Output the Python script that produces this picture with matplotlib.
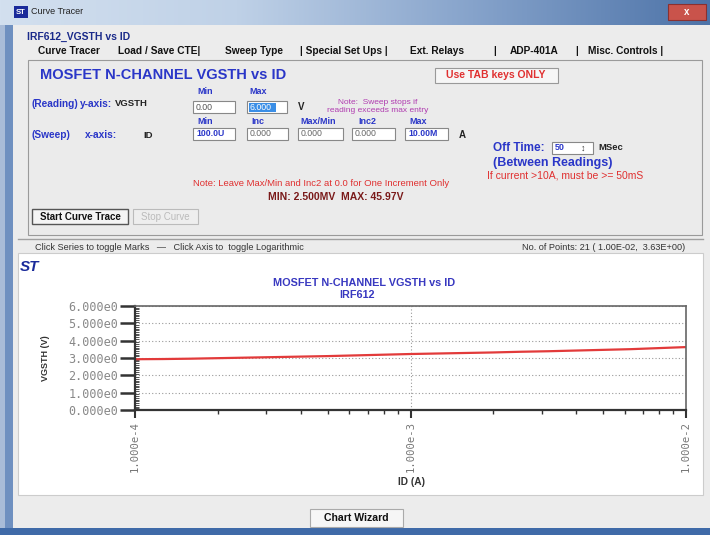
import numpy as np
import matplotlib.pyplot as plt
from matplotlib.patches import Rectangle
from matplotlib.colors import LinearSegmentedColormap
from matplotlib.ticker import MultipleLocator, FuncFormatter, NullFormatter, LogLocator

# sweep data: ID (A) vs VGSTH (V), 21 points
id_amps = [1.000e-4, 1.259e-4, 1.585e-4, 1.995e-4, 2.512e-4, 3.162e-4, 3.981e-4,
           5.012e-4, 6.310e-4, 7.943e-4, 1.000e-3, 1.259e-3, 1.585e-3, 1.995e-3,
           2.512e-3, 3.162e-3, 3.981e-3, 5.012e-3, 6.310e-3, 7.943e-3, 1.000e-2]
vgsth = [2.93, 2.94, 2.96, 2.99, 3.02, 3.05, 3.08, 3.11, 3.15, 3.19, 3.23,
         3.26, 3.29, 3.32, 3.36, 3.39, 3.43, 3.47, 3.51, 3.57, 3.63]
x_tick_vals = [1e-4, 1e-3, 1e-2]
x_tick_labels = ["1.000e-4", "1.000e-3", "1.000e-2"]
tabs = ["Curve Tracer", "Load / Save CTE|", "Sweep Type", "| Special Set Ups |",
        "Ext. Relays", "|", "ADP-401A", "|", "Misc. Controls |"]
tab_x = [38, 118, 225, 300, 410, 493, 510, 575, 588]

W, H = 710, 535
plt.rcParams['font.family'] = ['Liberation Sans', 'DejaVu Sans']
fig = plt.figure(figsize=(W / 100, H / 100), dpi=100)
fig.patch.set_facecolor('#ececec')

bg = fig.add_axes([0, 0, 1, 1])
bg.set_xlim(0, W)
bg.set_ylim(H, 0)
bg.axis('off')

BLUE = '#2a36c8'
RED = '#e03030'


def txt(x, y, s, size=6.5, color='black', weight='bold', ha='left', **kw):
    bg.text(x, y, s, fontsize=size, color=color, fontweight=weight, ha=ha, va='center', **kw)


def rect(x0, y0, x1, y1, face='white', edge='#888888', lw=0.8, z=1):
    bg.add_patch(Rectangle((x0, y0), x1 - x0, y1 - y0, facecolor=face, edgecolor=edge, lw=lw, zorder=z))


# window frame
rect(0, 0, W, H, face='#ececec', edge='none', z=0)
grad = np.linspace(0, 1, 256).reshape(1, -1)
cmap = LinearSegmentedColormap.from_list('tb', ['#d3e0ef', '#bfd1e7', '#86a3cb', '#4d73a8'])
bg.imshow(grad, extent=(0, W, 25, 0), aspect='auto', cmap=cmap, zorder=1)
rect(668, 4, 706, 20, face='#c9534b', edge='#8a3030', z=2)
txt(687, 12, "x", size=7, color='white', ha='center', zorder=3)
rect(14, 6, 28, 18, face='#1a2a9a', edge='none', z=2)
txt(21, 12, "ST", size=5.5, color='white', ha='center', zorder=3)
txt(31, 12, "Curve Tracer", size=6.5, weight='normal', color='#222222', zorder=3)
rect(0, 25, 5, H, face='#a9bcd8', edge='none', z=1)
rect(5, 25, 13, H, face='#6f90c0', edge='none', z=1)
rect(0, 528, W, H, face='#3f6aa8', edge='none', z=1)

# top panel
txt(27, 37, "IRF612_VGSTH vs ID", size=7.5, color='#1a2a8a')
for s, x in zip(tabs, tab_x):
    txt(x, 51, s, size=7.3, color='#111111')
rect(28, 60, 702, 235, face='#ebebeb', edge='#9a9a9a')
txt(40, 75, "MOSFET N-CHANNEL VGSTH vs ID", size=10.5, color=BLUE)
rect(435, 68, 558, 83, face='#f6f6f6', edge='#999999', z=2)
txt(496, 75.5, "Use TAB keys ONLY", size=7.5, color=RED, ha='center', zorder=3)

txt(205, 92, "Min", size=6.5, color=BLUE, ha='center')
txt(258, 92, "Max", size=6.5, color=BLUE, ha='center')
txt(32, 104, "(Reading)", size=7.3, color=BLUE)
txt(80, 104, "y-axis:", size=7.3, color=BLUE)
txt(115, 104, "VGSTH", size=6.8, color='#222222')
rect(193, 101, 235, 113, z=2)
txt(196, 107, "0.00", size=6.3, weight='normal', color='#555555', zorder=3)
rect(247, 101, 287, 113, z=2)
rect(249, 102.5, 276, 111.5, face='#3a8ee6', edge='none', z=3)
txt(250, 107, "6.000", size=6.3, weight='normal', color='white', zorder=4)
txt(298, 107, "V", size=7, color='#222222')
txt(378, 102, "Note:  Sweep stops if", size=6, weight='normal', color='#b03cb0', ha='center')
txt(378, 110, "reading exceeds max entry", size=6, weight='normal', color='#b03cb0', ha='center')

txt(205, 122, "Min", size=6.5, color=BLUE, ha='center')
txt(258, 122, "Inc", size=6.5, color=BLUE, ha='center')
txt(318, 122, "Max/Min", size=6.5, color=BLUE, ha='center')
txt(367, 122, "Inc2", size=6.5, color=BLUE, ha='center')
txt(418, 122, "Max", size=6.5, color=BLUE, ha='center')
txt(32, 135, "(Sweep)", size=7.3, color=BLUE)
txt(85, 135, "x-axis:", size=7.3, color=BLUE)
txt(143, 135, "ID", size=6.8, color='#222222')
sweep_boxes = [(193, 235, "100.0U", BLUE), (247, 288, "0.000", '#666666'),
               (298, 343, "0.000", '#666666'), (352, 395, "0.000", '#666666'),
               (405, 448, "10.00M", BLUE)]
for x0, x1, s, c in sweep_boxes:
    rect(x0, 128, x1, 140, z=2)
    txt(x0 + 3, 134, s, size=6.3, weight='bold' if c == BLUE else 'normal', color=c, zorder=3)
txt(459, 135, "A", size=7, color='#222222')

txt(493, 148, "Off Time:", size=8.5, color=BLUE)
rect(552, 142, 593, 154, z=2)
txt(555, 148, "50", size=6.5, color=BLUE, zorder=3)
txt(583, 148, "\u2195", size=6.5, weight='normal', color='#333333', ha='center', zorder=3)
txt(598, 148, "MSec", size=6.8, color='#222222')
txt(493, 163, "(Between Readings)", size=9, color=BLUE)
txt(487, 175, "If current >10A, must be >= 50mS", size=7.5, weight='normal', color=RED)
txt(193, 183, "Note: Leave Max/Min and Inc2 at 0.0 for One Increment Only", size=6.8,
    weight='normal', color=RED)
txt(268, 197, "MIN: 2.500MV  MAX: 45.97V", size=7.5, color='#7a1a1a')

rect(32, 209, 128, 224, face='#f4f4f4', edge='#555555', lw=1, z=2)
txt(80, 216.5, "Start Curve Trace", size=7, color='#111111', ha='center', zorder=3)
rect(133, 209, 198, 224, face='#eeeeee', edge='#bbbbbb', z=2)
txt(165, 216.5, "Stop Curve", size=7, weight='normal', color='#bbbbbb', ha='center', zorder=3)

bg.plot([18, 703], [239, 239], color='#a0a0a0', lw=1)
txt(35, 247, "Click Series to toggle Marks   \u2014   Click Axis to  toggle Logarithmic",
    size=6.6, weight='normal', color='#333333')
txt(685, 247, "No. of Points: 21 ( 1.00E-02,  3.63E+00)", size=6.6, weight='normal',
    color='#333333', ha='right')

# chart area
rect(18, 253, 703, 495, face='white', edge='#cccccc', z=1)
txt(20, 267, "ST", size=11, color='#1a2a9a', style='italic')
txt(364, 283, "MOSFET N-CHANNEL VGSTH vs ID", size=7.8, color='#3838c0', ha='center')
txt(357, 295, "IRF612", size=7.8, color='#3838c0', ha='center')
txt(411, 482, "ID (A)", size=7.3, color='#333333', ha='center', zorder=5)
bg.text(46, 358, "VGSTH (V)", fontsize=6.5, fontweight='bold', color='#333333',
        rotation=90, ha='center', va='center')

rect(310, 509, 403, 527, face='#f6f6f6', edge='#aaaaaa', z=2)
txt(356, 518, "Chart Wizard", size=7.6, color='#111111', ha='center', zorder=3)

# plot
ax = fig.add_axes([135 / W, 1 - 410 / H, 551 / W, 104 / H])
ax.set_facecolor('white')
ax.plot(id_amps, vgsth, color='#e23a3a', lw=1.6)
ax.set_xscale('log')
ax.set_xlim(1e-4, 1e-2)
ax.set_ylim(0, 6)
ax.yaxis.set_major_locator(MultipleLocator(1))
ax.yaxis.set_minor_locator(MultipleLocator(0.1))
ax.yaxis.set_major_formatter(FuncFormatter(lambda v, p: f"{v:.3f}e0"))
ax.set_xticks(x_tick_vals)
ax.set_xticklabels(x_tick_labels, rotation=90, family='DejaVu Sans Mono',
                   fontsize=7.6, color='#777777')
ax.xaxis.set_minor_locator(LogLocator(base=10, subs=np.arange(2, 10)))
ax.xaxis.set_minor_formatter(NullFormatter())
for lab in ax.get_yticklabels():
    lab.set_family('DejaVu Sans Mono')
ax.tick_params(axis='y', which='major', direction='out', length=11, width=1.8,
               color='#333333', labelsize=8.5, labelcolor='#888888', pad=1)
ax.tick_params(axis='y', which='minor', direction='in', length=3, width=0.6, color='#333333')
ax.tick_params(axis='x', which='major', direction='out', length=6, width=1.5,
               color='#333333', pad=2)
ax.tick_params(axis='x', which='minor', direction='out', length=3, width=1, color='#333333')
ax.grid(axis='y', which='major', linestyle=(0, (1, 2)), color='#999999', lw=0.8)
ax.grid(axis='x', which='major', linestyle=(0, (1, 2)), color='#999999', lw=0.8)
for side in ['left', 'bottom']:
    ax.spines[side].set_color('#333333')
    ax.spines[side].set_linewidth(1.6)
for side in ['top', 'right']:
    ax.spines[side].set_color('#666666')
    ax.spines[side].set_linewidth(1.2)

fig.savefig('out.png', dpi=100)
